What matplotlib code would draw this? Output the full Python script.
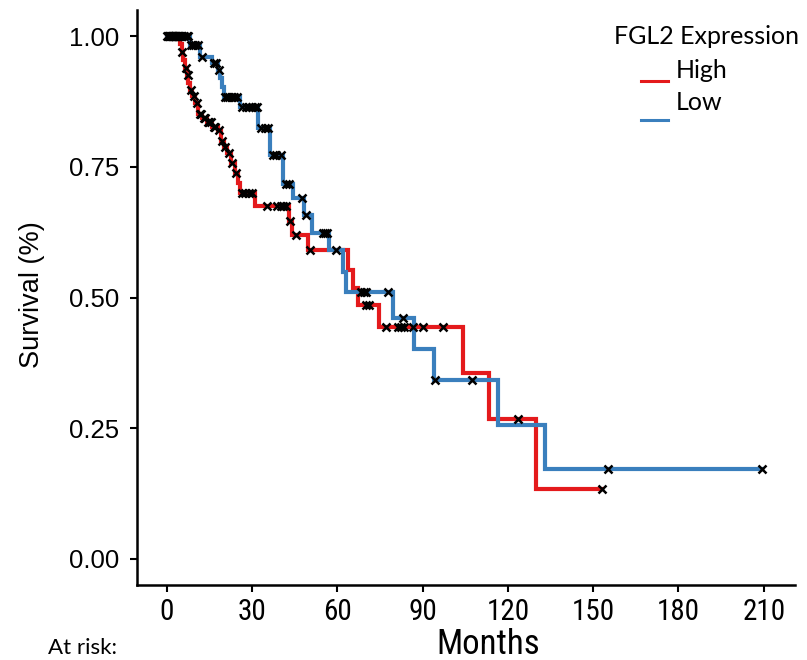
import numpy as np
import matplotlib.pyplot as plt
from matplotlib.lines import Line2D

# Kaplan-Meier step data (months, survival)
red_t = [0, 4.6, 5.2, 5.8, 6.4, 7.0, 7.5, 8.1, 9.0, 10.0, 11.0, 12.5, 14.0, 16.0, 18.0,
         19.0, 20.0, 21.2, 22.5, 24.0, 25.0, 25.8, 31.1, 43.0, 44.0, 49.8, 63.6, 65.4,
         67.1, 74.6, 104.2, 113.4, 130.0, 153.0]
red_s = [1.0, 0.985, 0.97, 0.955, 0.94, 0.925, 0.91, 0.897, 0.885, 0.872, 0.852, 0.843,
         0.835, 0.827, 0.82, 0.80, 0.787, 0.776, 0.757, 0.738, 0.72, 0.70, 0.676, 0.647,
         0.619, 0.59, 0.553, 0.519, 0.485, 0.443, 0.356, 0.268, 0.134, 0.134]
red_cens = [0.3, 0.8, 1.2, 1.7, 2.2, 2.8, 3.3, 3.8, 4.3, 5.5, 6.7, 7.3, 8.5, 9.5, 10.5,
            11.5, 12, 13, 13.5, 14.5, 15, 15.5, 16.5, 17, 18.5, 19.5, 20.5, 22, 23, 24.5,
            26.3, 27.5, 29, 30, 35.3, 38.9, 40, 41, 41.8, 43.3, 45.6, 50.2, 70, 71.2,
            77.2, 81.3, 82.5, 83.5, 86.7, 90.2, 97.3, 123.7, 153]

blue_t = [0, 8.1, 11.7, 15.9, 18.0, 18.7, 19.4, 20.1, 25.8, 32.2, 36.4, 41.0, 44.5, 48.4,
          51.2, 56.9, 61.8, 62.9, 79.5, 86.9, 94.0, 116.6, 132.9, 209.5]
blue_s = [1.0, 0.983, 0.96, 0.948, 0.935, 0.92, 0.902, 0.883, 0.864, 0.824, 0.772, 0.718,
          0.69, 0.657, 0.623, 0.59, 0.548, 0.51, 0.46, 0.402, 0.343, 0.257, 0.172, 0.172]
blue_cens = [0.2, 0.7, 1.3, 1.8, 2.4, 3, 3.5, 4.2, 4.8, 5.5, 6.2, 7, 7.6, 8.6, 9.3, 10,
             10.8, 12.5, 16.5, 17.2, 18.3, 20.6, 21.3, 22, 22.8, 23.5, 24.6, 26.5, 28,
             28.8, 30, 31, 31.7, 33, 34.5, 35.7, 37.3, 38.5, 40.2, 42, 43, 47.7, 48.9,
             55, 55.8, 56.5, 59.4, 68.3, 69.2, 70.2, 77.7, 83.0, 94.3, 107.2, 155.3, 209.5]

xticks = [0, 30, 60, 90, 120, 150, 180, 210]
yticks = [0.0, 0.25, 0.5, 0.75, 1.0]

red = "#e41a1c"
blue = "#3a7fbd"
W, H = 807, 660
narrow = ["Liberation Sans Narrow", "DejaVu Sans Condensed", "Roboto Condensed",
          "Liberation Sans", "DejaVu Sans"]
arial = ["Liberation Sans", "DejaVu Sans"]
calibri = ["Lato", "DejaVu Sans"]


def surv_at(ts, ss, x):
    # value of the step function at time x
    i = np.searchsorted(ts, x, side="right") - 1
    return np.array(ss)[i]


fig = plt.figure(figsize=(W / 100, H / 100), dpi=100)
ax = fig.add_axes([137 / W, 1 - 585 / H, (795 - 137) / W, (585 - 10) / H])

for ts, ss, cens, col in [(red_t, red_s, red_cens, red), (blue_t, blue_s, blue_cens, blue)]:
    ax.step(ts, ss, where="post", color=col, lw=3.0, solid_joinstyle="miter")
    ax.plot(cens, surv_at(ts, ss, np.array(cens)), ls="none", marker="x",
            color="black", ms=5.5, mew=1.8, zorder=5)

ax.set_xlim(-10.5, 221)
ax.set_ylim(-0.05, 1.05)
ax.set_xticks(xticks)
ax.set_yticks(yticks)
ax.set_yticklabels([f"{v:.2f}" for v in yticks], family=arial, fontsize=18.5)
ax.set_xticklabels([str(v) for v in xticks], family=narrow, fontsize=21)
ax.tick_params(axis="both", direction="out", length=5, width=1.5, color="black")
ax.tick_params(axis="y", pad=8)
ax.tick_params(axis="x", pad=4)
for s in ["top", "right"]:
    ax.spines[s].set_visible(False)
for s in ["left", "bottom"]:
    ax.spines[s].set_linewidth(1.8)

fig.text(32 / W, 1 - 295 / H, "Survival (%)", rotation=90, ha="center", va="center",
         fontsize=19.5, family=arial)
fig.text(488 / W, 1 - 645 / H, "Months", ha="center", va="center",
         fontsize=25, family=narrow)
fig.text(48 / W, 1 - 648 / H, "At risk:", ha="left", va="center",
         fontsize=16, family=calibri)

# legend, drawn by hand to keep the offset keys
fig.text(706 / W, 1 - 36 / H, "FGL2 Expression", ha="center", va="center",
         fontsize=18, family=calibri)
fig.text(676 / W, 1 - 70 / H, "High", ha="left", va="center",
         fontsize=18, family=calibri)
fig.text(676 / W, 1 - 102 / H, "Low", ha="left", va="center",
         fontsize=18, family=calibri)
fig.add_artist(Line2D([641 / W, 668 / W], [1 - 81 / H, 1 - 81 / H], color=red, lw=2.2))
fig.add_artist(Line2D([641 / W, 668 / W], [1 - 120 / H, 1 - 120 / H], color=blue, lw=2.2))

fig.savefig("out.png", dpi=100)
